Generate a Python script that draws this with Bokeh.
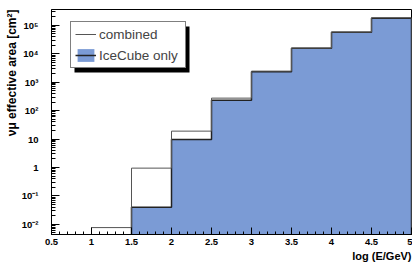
from bokeh.plotting import figure
from bokeh.models import (FixedTicker, Legend, LegendItem, BoxAnnotation, Range1d, Title)
from bokeh.embed import file_html
from bokeh.resources import INLINE

# ---- data ----
bin_edges = [0.5, 1.0, 1.5, 2.0, 2.5, 3.0, 3.5, 4.0, 4.5, 5.0]
combined = [0, 0.0077, 0.95, 19, 275, 2450, 15800, 58000, 185000]
icecube_only = [0, 0, 0.04, 9.7, 230, 2350, 15500, 57000, 178000]

x_ticks = [0.5, 1.0, 1.5, 2.0, 2.5, 3.0, 3.5, 4.0, 4.5, 5.0]
x_tick_labels = ["0.5", "1", "1.5", "2", "2.5", "3", "3.5", "4", "4.5", "5"]
y_ticks = [1e-2, 1e-1, 1.0, 10.0, 1e2, 1e3, 1e4, 1e5]
y_tick_labels = ["10⁻²", "10⁻¹", "1", "10", "10²", "10³", "10⁴", "10⁵"]

FLOOR = 1e-4
FONT = "Liberation Sans"
BLUE = "#7b9bd5"


def step_xy(vals):
    xs, ys = [bin_edges[0]], [FLOOR]
    for i, v in enumerate(vals):
        v = max(v, FLOOR)
        xs += [bin_edges[i], bin_edges[i + 1]]
        ys += [v, v]
    xs.append(bin_edges[-1])
    ys.append(FLOOR)
    return xs, ys


W, H = 412, 264
TOP, BOTTOM, LEFT, RIGHT = 9, 30, 51, 1
FRAME_H = H - TOP - BOTTOM

p = figure(width=W, height=H, x_range=Range1d(0.5, 5.0),
           y_range=Range1d(0.0044, 3.6e5), y_axis_type="log",
           output_backend="svg", toolbar_location=None,
           min_border_left=LEFT, min_border_right=RIGHT,
           min_border_top=TOP, min_border_bottom=BOTTOM)
p.grid.visible = False
p.outline_line_color = "black"
p.outline_line_width = 1
p.background_fill_color = "white"
p.border_fill_color = "white"

# IceCube-only filled histogram
ix, iy = step_xy(icecube_only)
ice_fill = p.patch(ix, iy, fill_color=BLUE, line_color=None)
ice_line = p.line(ix, iy, line_color="#222222", line_width=1.5)

# combined histogram outline
cx, cy = step_xy(combined)
comb_line = p.line(cx, cy, line_color="#555555", line_width=1)

# axes
xa = p.xaxis[0]
xa.ticker = FixedTicker(ticks=x_ticks,
                        minor_ticks=[round(0.5 + 0.1 * i, 2) for i in range(46)])
xa.major_label_overrides = dict(zip(x_ticks, x_tick_labels))
ya = p.yaxis[0]
minor_y = [k * 10.0 ** d for d in range(-3, 6) for k in range(2, 10)]
ya.ticker = FixedTicker(ticks=y_ticks, minor_ticks=minor_y)
ya.major_label_overrides = dict(zip(y_ticks, y_tick_labels))

for ax in (xa, ya):
    ax.axis_line_color = "black"
    ax.major_tick_line_color = "black"
    ax.minor_tick_line_color = "black"
    ax.major_tick_out = 0
    ax.minor_tick_out = 0
    ax.major_label_text_font = FONT
    ax.major_label_text_font_style = "bold"
    ax.major_label_text_font_size = "9.5px"
    ax.major_label_text_color = "black"

xa.major_tick_in = 7
xa.minor_tick_in = 3
xa.major_label_standoff = 4
ya.major_tick_in = 8
ya.minor_tick_in = 4
ya.major_label_standoff = 13

# axis titles, aligned to the axis ends (ROOT style)
p.add_layout(Title(text="νμ effective area [cm²]", align="right", text_font=FONT,
                   text_font_style="bold", text_font_size="12px",
                   text_color="black", standoff=0), "left")
p.add_layout(Title(text="log (E/GeV)", align="right", text_font=FONT,
                   text_font_style="bold", text_font_size="11px",
                   text_color="black", standoff=0), "below")

# legend with drop shadow
LW, LH = 115, 46
lx = 19
ly = FRAME_H - 59
shadow = BoxAnnotation(left=lx + 4, right=lx + LW + 4, bottom=ly - 4, top=ly + LH - 4,
                       left_units="screen", right_units="screen",
                       bottom_units="screen", top_units="screen",
                       fill_color="black", fill_alpha=1, line_color=None)
p.add_layout(shadow)

legend = Legend(items=[LegendItem(label="combined", renderers=[comb_line]),
                       LegendItem(label="IceCube only", renderers=[ice_fill, ice_line])],
                location=(lx, ly), border_line_color="black", border_line_width=1,
                background_fill_color="white", background_fill_alpha=1,
                label_text_font=FONT, label_text_font_size="13.5px",
                glyph_width=21, glyph_height=16, label_height=16, label_width=82,
                label_standoff=3, spacing=5, padding=4, margin=0)
p.add_layout(legend)

open("out.html", "w").write(file_html(p, INLINE))
